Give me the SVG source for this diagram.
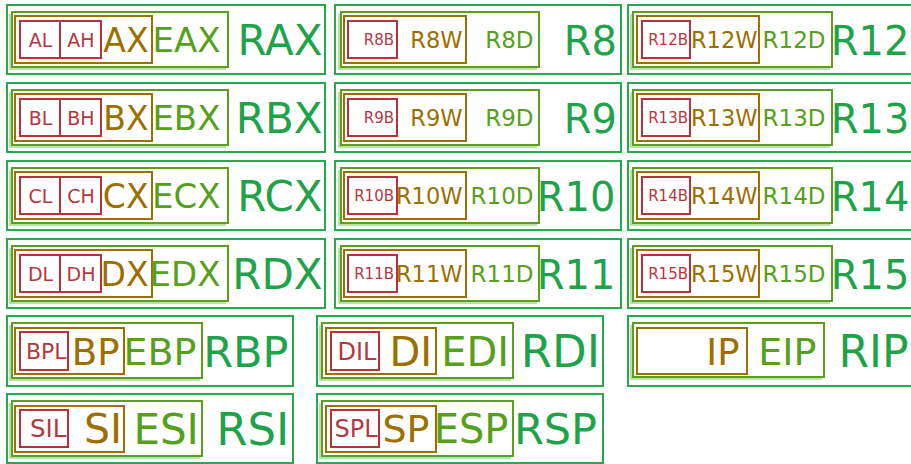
<svg xmlns="http://www.w3.org/2000/svg" width="911" height="464" viewBox="0 0 911 464">
<style>
.br{fill:none;stroke:#2aa84e;stroke-width:2}
.be{fill:none;stroke:#5aa01e;stroke-width:2}
.bs{fill:none;stroke:#a8d888;stroke-width:1.5}
.bx{fill:none;stroke:#9c6f00;stroke-width:2}
.bl{fill:none;stroke:#b3343a;stroke-width:2}
text{font-family:"DejaVu Sans",Verdana,sans-serif;text-anchor:end}
.tr{fill:#1fa34a}.te{fill:#56a01c}.tx{fill:#9c6f00}.tl{fill:#b5383f}
.m{text-anchor:middle}
.f15{font-size:15px}.f19{font-size:19px}.f22{font-size:22.5px}.f23{font-size:23px}.f33{font-size:33px}.f34{font-size:34px}.f40{font-size:40px}.f42{font-size:42px}
</style>
<rect width="911" height="464" fill="#fff"/>

<g id="rax">
<rect class="br" x="7" y="5" width="318" height="69"/>
<polyline class="bs" points="10,14 10,69 226,69"/>
<rect class="be" x="12" y="12" width="216" height="55"/>
<rect class="bx" x="15" y="16" width="137" height="47"/>
<rect class="bl" x="20" y="21" width="40" height="37"/>
<rect class="bl" x="60" y="21" width="41" height="37"/>
<text class="tl f19 m" x="40.5" y="46.5">AL</text>
<text class="tl f19 m" x="81" y="46.5">AH</text>
<text class="tx f33" x="148.5" y="52">AX</text>
<text class="te f34" x="220.5" y="52">EAX</text>
<text class="tr f42" x="322.5" y="54.5">RAX</text>
</g>
<g id="rbx">
<rect class="br" x="7" y="83" width="318" height="69"/>
<polyline class="bs" points="10,92 10,147 226,147"/>
<rect class="be" x="12" y="90" width="216" height="55"/>
<rect class="bx" x="15" y="94" width="137" height="47"/>
<rect class="bl" x="20" y="99" width="40" height="37"/>
<rect class="bl" x="60" y="99" width="41" height="37"/>
<text class="tl f19 m" x="40.5" y="124.5">BL</text>
<text class="tl f19 m" x="81" y="124.5">BH</text>
<text class="tx f33" x="148.5" y="130">BX</text>
<text class="te f34" x="220.5" y="130">EBX</text>
<text class="tr f42" x="322.5" y="132.5">RBX</text>
</g>
<g id="rcx">
<rect class="br" x="7" y="161" width="318" height="69"/>
<polyline class="bs" points="10,170 10,225 226,225"/>
<rect class="be" x="12" y="168" width="216" height="55"/>
<rect class="bx" x="15" y="172" width="137" height="47"/>
<rect class="bl" x="20" y="177" width="40" height="37"/>
<rect class="bl" x="60" y="177" width="41" height="37"/>
<text class="tl f19 m" x="40.5" y="202.5">CL</text>
<text class="tl f19 m" x="81" y="202.5">CH</text>
<text class="tx f33" x="148.5" y="208">CX</text>
<text class="te f34" x="220.5" y="208">ECX</text>
<text class="tr f42" x="322.5" y="210.5">RCX</text>
</g>
<g id="rdx">
<rect class="br" x="7" y="239" width="318" height="69"/>
<polyline class="bs" points="10,248 10,303 226,303"/>
<rect class="be" x="12" y="246" width="216" height="55"/>
<rect class="bx" x="15" y="250" width="137" height="47"/>
<rect class="bl" x="20" y="255" width="40" height="37"/>
<rect class="bl" x="60" y="255" width="41" height="37"/>
<text class="tl f19 m" x="40.5" y="280.5">DL</text>
<text class="tl f19 m" x="81" y="280.5">DH</text>
<text class="tx f33" x="148.5" y="286">DX</text>
<text class="te f34" x="220.5" y="286">EDX</text>
<text class="tr f42" x="322.5" y="288.5">RDX</text>
</g>

<g id="r8">
<rect class="br" x="335" y="5" width="286" height="69"/>
<polyline class="bs" points="339,14 339,69 537,69"/>
<rect class="be" x="341" y="12" width="198" height="55"/>
<rect class="bx" x="344" y="16" width="122" height="47"/>
<rect class="bl" x="348" y="21" width="49" height="37"/>
<text class="tl f15" x="394" y="45">R8B</text>
<text class="tx f22" x="462.5" y="48">R8W</text>
<text class="te f23" x="533.5" y="48">R8D</text>
<text class="tr f40" x="617" y="54.5">R8</text>
</g>
<g id="r9">
<rect class="br" x="335" y="83" width="286" height="69"/>
<polyline class="bs" points="339,92 339,147 537,147"/>
<rect class="be" x="341" y="90" width="198" height="55"/>
<rect class="bx" x="344" y="94" width="122" height="47"/>
<rect class="bl" x="348" y="99" width="49" height="37"/>
<text class="tl f15" x="394" y="123">R9B</text>
<text class="tx f22" x="462.5" y="126">R9W</text>
<text class="te f23" x="533.5" y="126">R9D</text>
<text class="tr f40" x="617" y="132.5">R9</text>
</g>
<g id="r10">
<rect class="br" x="335" y="161" width="286" height="69"/>
<polyline class="bs" points="339,170 339,225 537,225"/>
<rect class="be" x="341" y="168" width="198" height="55"/>
<rect class="bx" x="344" y="172" width="122" height="47"/>
<rect class="bl" x="348" y="177" width="49" height="37"/>
<text class="tl f15" x="394" y="201">R10B</text>
<text class="tx f22" x="462.5" y="204">R10W</text>
<text class="te f23" x="533.5" y="204">R10D</text>
<text class="tr f40" x="615.5" y="210.5">R10</text>
</g>
<g id="r11">
<rect class="br" x="335" y="239" width="286" height="69"/>
<polyline class="bs" points="339,248 339,303 537,303"/>
<rect class="be" x="341" y="246" width="198" height="55"/>
<rect class="bx" x="344" y="250" width="122" height="47"/>
<rect class="bl" x="348" y="255" width="49" height="37"/>
<text class="tl f15" x="394" y="279">R11B</text>
<text class="tx f22" x="462.5" y="282">R11W</text>
<text class="te f23" x="533.5" y="282">R11D</text>
<text class="tr f40" x="615.5" y="288.5">R11</text>
</g>

<g id="r12">
<rect class="br" x="628" y="5" width="286" height="69"/>
<polyline class="bs" points="631,14 631,69 830,69"/>
<rect class="be" x="633" y="12" width="199" height="55"/>
<rect class="bx" x="637" y="16" width="122" height="47"/>
<rect class="bl" x="642" y="21" width="48" height="37"/>
<text class="tl f15" x="688" y="45">R12B</text>
<text class="tx f22" x="757.5" y="48">R12W</text>
<text class="te f23" x="825.5" y="48">R12D</text>
<text class="tr f40" x="909.5" y="54.5">R12</text>
</g>
<g id="r13">
<rect class="br" x="628" y="83" width="286" height="69"/>
<polyline class="bs" points="631,92 631,147 830,147"/>
<rect class="be" x="633" y="90" width="199" height="55"/>
<rect class="bx" x="637" y="94" width="122" height="47"/>
<rect class="bl" x="642" y="99" width="48" height="37"/>
<text class="tl f15" x="688" y="123">R13B</text>
<text class="tx f22" x="757.5" y="126">R13W</text>
<text class="te f23" x="825.5" y="126">R13D</text>
<text class="tr f40" x="909.5" y="132.5">R13</text>
</g>
<g id="r14">
<rect class="br" x="628" y="161" width="286" height="69"/>
<polyline class="bs" points="631,170 631,225 830,225"/>
<rect class="be" x="633" y="168" width="199" height="55"/>
<rect class="bx" x="637" y="172" width="122" height="47"/>
<rect class="bl" x="642" y="177" width="48" height="37"/>
<text class="tl f15" x="688" y="201">R14B</text>
<text class="tx f22" x="757.5" y="204">R14W</text>
<text class="te f23" x="825.5" y="204">R14D</text>
<text class="tr f40" x="909.5" y="210.5">R14</text>
</g>
<g id="r15">
<rect class="br" x="628" y="239" width="286" height="69"/>
<polyline class="bs" points="631,248 631,303 830,303"/>
<rect class="be" x="633" y="246" width="199" height="55"/>
<rect class="bx" x="637" y="250" width="122" height="47"/>
<rect class="bl" x="642" y="255" width="48" height="37"/>
<text class="tl f15" x="688" y="279">R15B</text>
<text class="tx f22" x="757.5" y="282">R15W</text>
<text class="te f23" x="825.5" y="282">R15D</text>
<text class="tr f40" x="909.5" y="288.5">R15</text>
</g>

<g id="rbp">
<rect class="br" x="7" y="316" width="286" height="70"/>
<polyline class="bs" points="10,325 10,380 200,380"/>
<rect class="be" x="12" y="323" width="190" height="55"/>
<rect class="bx" x="15" y="328" width="109" height="46"/>
<rect class="bl" x="20" y="332" width="48" height="38"/>
<text class="tl" style="font-size:22px" x="66.5" y="359">BPL</text>
<text class="tx" style="font-size:37px" x="119.5" y="364.5">BP</text>
<text class="te" style="font-size:38px" x="196.5" y="365">EBP</text>
<text class="tr" style="font-size:43px" x="288.5" y="366.7">RBP</text>
</g>
<g id="rdi">
<rect class="br" x="317" y="316" width="286" height="70"/>
<polyline class="bs" points="320,325 320,380 511,380"/>
<rect class="be" x="322" y="323" width="191" height="55"/>
<rect class="bx" x="326" y="328" width="110" height="46"/>
<rect class="bl" x="331" y="332" width="48" height="38"/>
<text class="tl" style="font-size:24px" x="376.5" y="359.7">DIL</text>
<text class="tx" style="font-size:40px" x="432" y="365.6">DI</text>
<text class="te" style="font-size:40px" x="509" y="365.6">EDI</text>
<text class="tr" style="font-size:45px" x="600" y="367.4">RDI</text>
</g>
<g id="rip">
<rect class="br" x="628" y="316" width="286" height="70"/>
<polyline class="bs" points="631,325 631,379 822,379"/>
<rect class="be" x="633" y="323" width="191" height="54"/>
<rect class="bx" x="637" y="328" width="110" height="46"/>
<text class="tx" style="font-size:37px" x="739.5" y="364.5">IP</text>
<text class="te" style="font-size:38px" x="816.5" y="365">EIP</text>
<text class="tr" style="font-size:44px" x="908.5" y="367">RIP</text>
</g>
<g id="rsi">
<rect class="br" x="7" y="394" width="286" height="69"/>
<polyline class="bs" points="10,403 10,458 200,458"/>
<rect class="be" x="12" y="401" width="190" height="55"/>
<rect class="bx" x="15" y="406" width="109" height="46"/>
<rect class="bl" x="20" y="410" width="48" height="37"/>
<text class="tl" style="font-size:24.5px" x="66.5" y="437.4">SIL</text>
<text class="tx" style="font-size:41px" x="122" y="443.4">SI</text>
<text class="te" style="font-size:42px" x="199" y="443.8">ESI</text>
<text class="tr" style="font-size:45px" x="289.4" y="444.9">RSI</text>
</g>
<g id="rsp">
<rect class="br" x="317" y="394" width="286" height="69"/>
<polyline class="bs" points="320,403 320,458 511,458"/>
<rect class="be" x="322" y="401" width="191" height="55"/>
<rect class="bx" x="326" y="406" width="110" height="46"/>
<rect class="bl" x="331" y="410" width="48" height="37"/>
<text class="tl" style="font-size:24px" x="377.5" y="437.2">SPL</text>
<text class="tx" style="font-size:38px" x="429.5" y="442.4">SP</text>
<text class="te" style="font-size:40px" x="508.5" y="443.1">ESP</text>
<text class="tr" style="font-size:43px" x="597" y="444.2">RSP</text>
</g>
</svg>
